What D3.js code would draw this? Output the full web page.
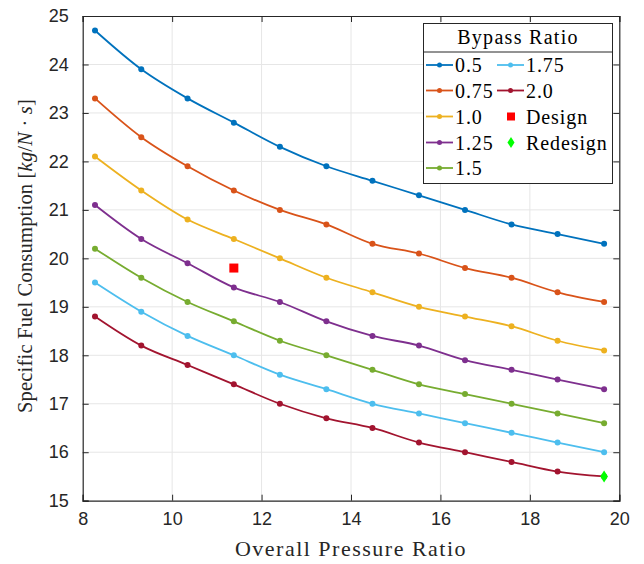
<!DOCTYPE html>
<html>
<head>
<meta charset="utf-8">
<script src="https://cdn.jsdelivr.net/npm/d3@7"></script>
<style>
  body { margin: 0; background: #fff; }
  svg { display: block; }
</style>
</head>
<body>
<svg id="chart" width="644" height="564"></svg>
<script>
// pressure ratio samples (x)
const opr = [8.275, 9.31, 10.345, 11.38, 12.41, 13.45, 14.48, 15.52, 16.55, 17.59, 18.62, 19.66];

const bypassNames = ['0.5', '0.75', '1.0', '1.25', '1.5', '1.75', '2.0'];
const sfc05  = [24.7, 23.9, 23.3, 22.8, 22.3, 21.9, 21.6, 21.3, 21.0, 20.7, 20.5, 20.3];
const sfc075 = [23.3, 22.5, 21.9, 21.4, 21.0, 20.7, 20.3, 20.1, 19.8, 19.6, 19.3, 19.1];
const sfc10  = [22.1, 21.4, 20.8, 20.4, 20.0, 19.6, 19.3, 19.0, 18.8, 18.6, 18.3, 18.1];
const sfc125 = [21.1, 20.4, 19.9, 19.4, 19.1, 18.7, 18.4, 18.2, 17.9, 17.7, 17.5, 17.3];
const sfc15  = [20.2, 19.6, 19.1, 18.7, 18.3, 18.0, 17.7, 17.4, 17.2, 17.0, 16.8, 16.6];
const sfc175 = [19.5, 18.9, 18.4, 18.0, 17.6, 17.3, 17.0, 16.8, 16.6, 16.4, 16.2, 16.0];
const sfc20  = [18.8, 18.2, 17.8, 17.4, 17.0, 16.7, 16.5, 16.2, 16.0, 15.8, 15.6, 15.5];
const seriesVals = [sfc05, sfc075, sfc10, sfc125, sfc15, sfc175, sfc20];

const designPt = [11.38, 19.8];
const redesignPt = [19.66, 15.5];

const xTicks = [8, 10, 12, 14, 16, 18, 20];
const yTicks = [15, 16, 17, 18, 19, 20, 21, 22, 23, 24, 25];

const colors = ['#0072BD', '#D95319', '#EDB120', '#7E2F8E', '#77AC30', '#4DBEEE', '#A2142F'];

const svg = d3.select('#chart');
const L = 82.7, R = 619.3, T = 16, B = 500.7;
const x = d3.scaleLinear().domain([8, 20]).range([L, R]);
const y = d3.scaleLinear().domain([15, 25]).range([B, T]);
const axisCol = '#262626';
const tickFont = '"Liberation Sans", Arial, sans-serif';
const serif = '"Liberation Serif", "DejaVu Serif", serif';

// grid
const grid = svg.append('g');
grid.selectAll('.gx').data(xTicks.slice(1, -1)).enter().append('line')
  .attr('x1', d => x(d)).attr('x2', d => x(d)).attr('y1', T).attr('y2', B)
  .attr('stroke', '#e6e6e6').attr('stroke-width', 1);
grid.selectAll('.gy').data(yTicks.slice(1, -1)).enter().append('line')
  .attr('y1', d => y(d)).attr('y2', d => y(d)).attr('x1', L).attr('x2', R)
  .attr('stroke', '#e6e6e6').attr('stroke-width', 1);

// axes
const xAx = svg.append('g').attr('transform', `translate(0,${B})`)
  .call(d3.axisBottom(x).tickValues(xTicks).tickSize(-6).tickPadding(12).tickFormat(d3.format('d')));
const xTop = svg.append('g').attr('transform', `translate(0,${T})`)
  .call(d3.axisTop(x).tickValues(xTicks).tickSize(-6).tickFormat(''));
const yAx = svg.append('g').attr('transform', `translate(${L},0)`)
  .call(d3.axisLeft(y).tickValues(yTicks).tickSize(-6).tickPadding(14).tickFormat(d3.format('d')));
const yRt = svg.append('g').attr('transform', `translate(${R},0)`)
  .call(d3.axisRight(y).tickValues(yTicks).tickSize(-6).tickFormat(''));
[xAx, xTop, yAx, yRt].forEach(g => {
  g.select('.domain').attr('stroke', axisCol).attr('stroke-width', 1.2);
  g.selectAll('.tick line').attr('stroke', axisCol).attr('stroke-width', 1);
  g.selectAll('.tick text').attr('fill', axisCol).style('font-family', tickFont).style('font-size', '18px');
});

// lines
const line = d3.line().x((d, i) => x(opr[i])).y(d => y(d)).curve(d3.curveMonotoneX);
const plot = svg.append('g');
seriesVals.forEach((vals, k) => {
  plot.append('path').datum(vals).attr('d', line)
    .attr('fill', 'none').attr('stroke', colors[k]).attr('stroke-width', 1.8);
  plot.selectAll('.m' + k).data(vals).enter().append('circle')
    .attr('cx', (d, i) => x(opr[i])).attr('cy', d => y(d)).attr('r', 3)
    .attr('fill', colors[k]);
});

// design / redesign markers
plot.append('rect')
  .attr('x', x(designPt[0]) - 4.5).attr('y', y(designPt[1]) - 4.5)
  .attr('width', 9).attr('height', 9).attr('fill', '#ff0000');
plot.append('path')
  .attr('d', d3.symbol().type(d3.symbolDiamond2).size(60)())
  .attr('transform', `translate(${x(redesignPt[0])},${y(redesignPt[1])}) scale(0.8,1.25)`)
  .attr('fill', '#00ff00');

// axis labels
svg.append('text').attr('x', (L + R) / 2).attr('y', 556).attr('text-anchor', 'middle')
  .style('font-family', serif).style('font-size', '22px').style('letter-spacing', '1.5px')
  .attr('fill', axisCol).text('Overall Pressure Ratio');
const yl = svg.append('text').attr('transform', `translate(32,256) rotate(-90)`)
  .attr('text-anchor', 'middle').style('font-family', serif).style('font-size', '20.5px')
  .style('letter-spacing', '0.2px').attr('fill', axisCol);
yl.append('tspan').text('Specific Fuel Consumption [');
yl.append('tspan').style('font-style', 'italic').text('kg');
yl.append('tspan').text('/');
yl.append('tspan').style('font-style', 'italic').text('N');
yl.append('tspan').text(' · ');
yl.append('tspan').style('font-style', 'italic').text('s');
yl.append('tspan').text(']');

// legend
const lg = svg.append('g');
lg.append('rect').attr('x', 423.5).attr('y', 23.5).attr('width', 189).attr('height', 160)
  .attr('fill', '#fff').attr('stroke', '#262626').attr('stroke-width', 1);
lg.append('line').attr('x1', 423.5).attr('x2', 612.5).attr('y1', 52).attr('y2', 52)
  .attr('stroke', '#262626').attr('stroke-width', 1);
lg.append('text').attr('x', 518).attr('y', 44).attr('text-anchor', 'middle')
  .style('font-family', serif).style('font-size', '20px').style('letter-spacing', '1.3px')
  .attr('fill', '#000').text('Bypass Ratio');

const rowY = [65, 90.5, 116.5, 142.5, 168];
const entries = bypassNames.map((n, k) => ({ name: n, color: colors[k], col: k < 5 ? 0 : 1, row: k < 5 ? k : k - 5, kind: 'line' }));
entries.push({ name: 'Design', color: '#ff0000', col: 1, row: 2, kind: 'square' });
entries.push({ name: 'Redesign', color: '#00ff00', col: 1, row: 3, kind: 'diamond' });
const colX = [426, 497];
entries.forEach(e => {
  const x0 = colX[e.col], yy = rowY[e.row];
  if (e.kind === 'line') {
    lg.append('line').attr('x1', x0).attr('x2', x0 + 27).attr('y1', yy).attr('y2', yy)
      .attr('stroke', e.color).attr('stroke-width', 1.8);
    lg.append('circle').attr('cx', x0 + 13.5).attr('cy', yy).attr('r', 2.5).attr('fill', e.color);
  } else if (e.kind === 'square') {
    lg.append('rect').attr('x', x0 + 10).attr('y', yy - 4).attr('width', 8).attr('height', 8).attr('fill', e.color);
  } else {
    lg.append('path').attr('d', d3.symbol().type(d3.symbolDiamond2).size(50)())
      .attr('transform', `translate(${x0 + 14},${yy}) scale(0.8,1.25)`).attr('fill', e.color);
  }
  lg.append('text').attr('x', x0 + 29).attr('y', yy + 7)
    .style('font-family', serif).style('font-size', '20px').style('letter-spacing', '0.9px')
    .attr('fill', '#000').text(e.name);
});
</script>
</body>
</html>
